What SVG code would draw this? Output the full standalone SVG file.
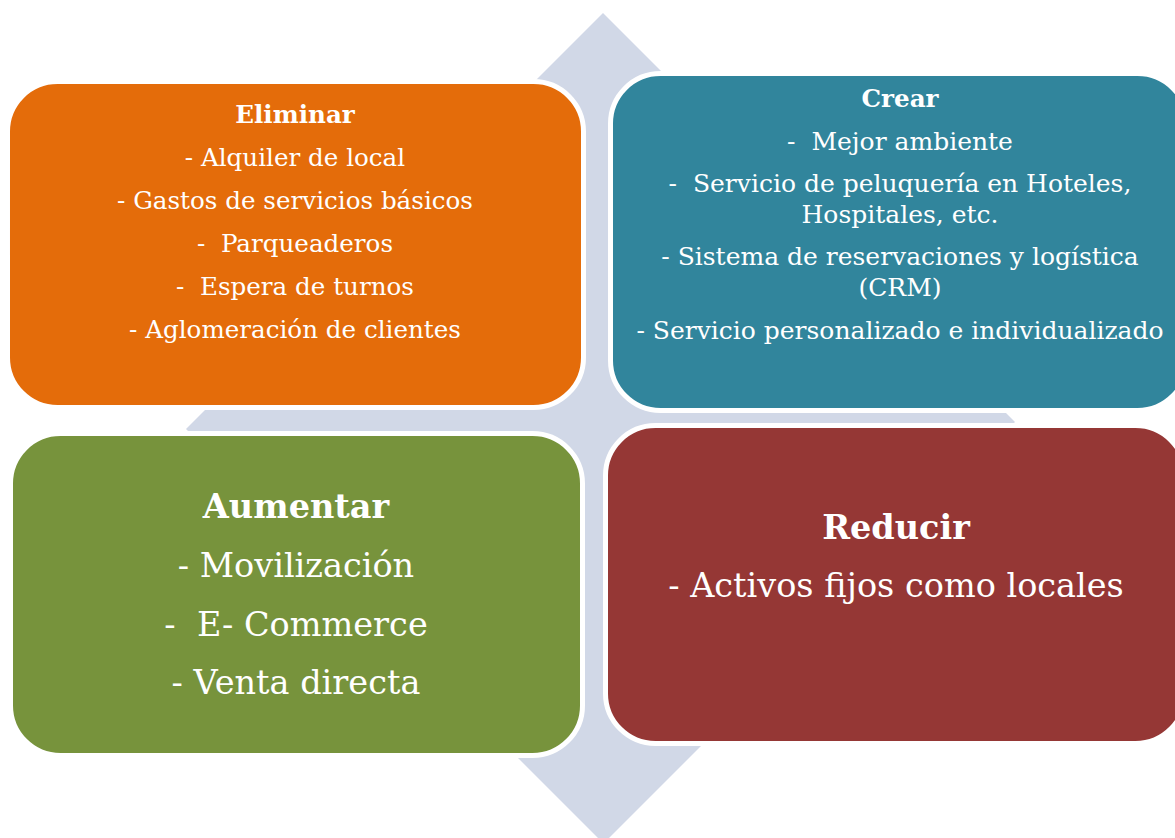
<svg xmlns="http://www.w3.org/2000/svg" width="1175" height="838" viewBox="0 0 1175 838">
<style>
.box{stroke:#FFFFFF;stroke-width:5}
.t{font-family:"DejaVu Serif","Liberation Serif",serif;fill:#FFFFFF;text-anchor:middle;white-space:pre}
.s{font-size:25px}
.so{font-size:24.6px}
.sb{font-size:24.6px;font-weight:bold}
.l{font-size:33.5px}
.lb{font-size:33.5px;font-weight:bold}
</style>
<rect width="1175" height="838" fill="#FFFFFF"/>
<g id="arrows">
<polygon fill="#D1D8E7" points="603,13 706,116 656,116 656,380 955,380 955,362 1015,422 955,482 955,465 656,465 656,733.5 713.5,733.5 603.5,843.5 493.5,733.5 550,733.5 550,465 246,465 246,489 186,429 246,369 246,380 550,380 550,116 500,116"/>
</g>
<g id="eliminar">
<rect class="box" x="7.5" y="81.5" width="576" height="326" rx="50" fill="#E46C0A"/>
<text class="t sb" x="295" y="123">Eliminar</text>
<text class="t so" x="295" y="166">- Alquiler de local</text>
<text class="t so" x="295" y="209">- Gastos de servicios básicos</text>
<text class="t so" x="295" y="252">-  Parqueaderos</text>
<text class="t so" x="295" y="295">-  Espera de turnos</text>
<text class="t so" x="295" y="338">- Aglomeración de clientes</text>
</g>
<g id="crear">
<rect class="box" x="610.5" y="73.5" width="577" height="337" rx="50" fill="#31859C"/>
<text class="t sb" x="900" y="107">Crear</text>
<text class="t s" x="900" y="150">-  Mejor ambiente</text>
<text class="t s" x="900" y="192">-  Servicio de peluquería en Hoteles,</text>
<text class="t s" x="900" y="223">Hospitales, etc.</text>
<text class="t s" x="900" y="265">- Sistema de reservaciones y logística</text>
<text class="t s" x="900" y="296">(CRM)</text>
<text class="t s" x="900" y="339">- Servicio personalizado e individualizado</text>
</g>
<g id="aumentar">
<rect class="box" x="10.5" y="433.5" width="572" height="322" rx="50" fill="#77933C"/>
<text class="t lb" x="296" y="518">Aumentar</text>
<text class="t l" x="296" y="577">- Movilización</text>
<text class="t l" x="296" y="636">-  E- Commerce</text>
<text class="t l" x="296" y="694">- Venta directa</text>
</g>
<g id="reducir">
<rect class="box" x="605.5" y="425.5" width="580" height="318" rx="50" fill="#953735"/>
<text class="t lb" x="896" y="539">Reducir</text>
<text class="t l" x="896" y="597">- Activos fijos como locales</text>
</g>
</svg>
